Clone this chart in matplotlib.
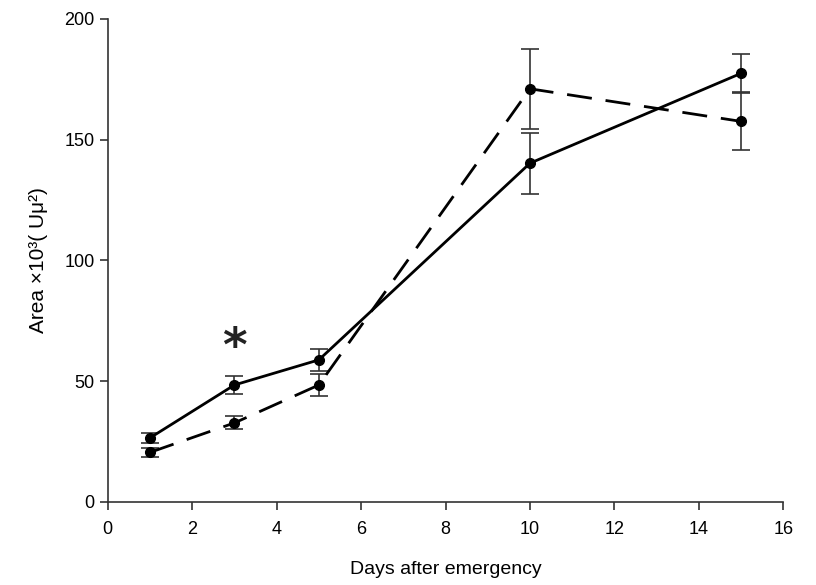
import matplotlib
matplotlib.use("Agg")
import matplotlib.pyplot as plt

# datos
days = [1, 3, 5, 10, 15]
solid_area = [26.5, 48.4, 58.8, 140.2, 177.4]
solid_err = [2.0, 3.7, 4.6, 12.6, 8.2]
dashed_area = [20.5, 32.7, 48.4, 171.0, 157.5]
dashed_err = [1.7, 2.7, 4.5, 16.5, 12.0]

star_day = 3
star_y = 63.5

plt.rcParams['font.family'] = ['Liberation Sans', 'DejaVu Sans']

fig = plt.figure(figsize=(8.16, 5.85), dpi=100)
ax = fig.add_axes([0.132, 0.142, 0.828, 0.826])

ax.errorbar(days, solid_area, yerr=solid_err, color='black', lw=2,
            marker='o', ms=7, ecolor='#333333', elinewidth=1.2, capsize=6.5, capthick=1.2)
ax.errorbar(days, dashed_area, yerr=dashed_err, color='black', lw=2, dashes=(9, 5),
            marker='o', ms=7, ecolor='#333333', elinewidth=1.2, capsize=6.5, capthick=1.2)

ax.text(star_day, star_y, '*', fontsize=34, ha='center', va='center', color='#222222',
        family='DejaVu Sans', fontweight='bold')

ax.set_xlim(0, 16)
ax.set_ylim(0, 200)
ax.set_xticks(range(0, 17, 2))
ax.set_yticks(range(0, 201, 50))
for s in ['top', 'right']:
    ax.spines[s].set_visible(False)
for s in ['left', 'bottom']:
    ax.spines[s].set_color('#333333')
    ax.spines[s].set_linewidth(1.2)
ax.tick_params(direction='out', length=6, width=1.2, color='#333333', labelsize=13)
ax.tick_params(axis='x', pad=8)

ax.set_xlabel('Days after emergency', fontsize=14, labelpad=16)
ax.set_ylabel('Area ×10³( Uμ²)', fontsize=15, labelpad=12)

fig.savefig('out.png', dpi=100)
